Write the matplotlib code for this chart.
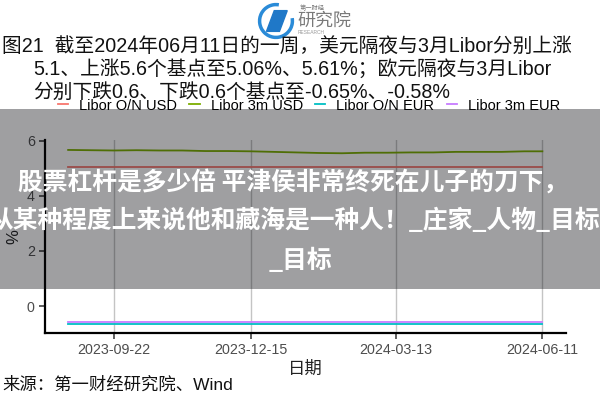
import numpy as np
import pandas as pd
import matplotlib
matplotlib.use('Agg')
import matplotlib.pyplot as plt
import matplotlib.dates as mdates
import matplotlib.patches as ptc

plt.rcParams['font.family'] = ['Liberation Sans', 'Noto Sans CJK SC']

# Data
usd3m_dates = ['2023-08-25', '2023-09-08', '2023-09-22', '2023-10-06', '2023-10-20',
               '2023-11-03', '2023-11-17', '2023-12-01', '2023-12-15', '2023-12-29',
               '2024-01-12', '2024-01-26', '2024-02-09', '2024-02-23', '2024-03-08',
               '2024-03-22', '2024-04-05', '2024-04-19', '2024-05-03', '2024-05-17',
               '2024-05-31', '2024-06-11']
usd3m = [5.66, 5.65, 5.64, 5.65, 5.64, 5.64, 5.62, 5.62, 5.61, 5.59, 5.57,
         5.55, 5.54, 5.56, 5.56, 5.57, 5.57, 5.59, 5.59, 5.59, 5.61, 5.61]
flat_dates = ['2023-08-25', '2024-06-11']
usd_on = [5.06, 5.06]
eur_on = [-0.65, -0.65]
eur3m = [-0.58, -0.58]
tick_dates = ['2023-09-22', '2023-12-15', '2024-03-13', '2024-06-11']
y_ticks = [0, 2, 4, 6]
names = ['Libor O/N USD', 'Libor 3m USD', 'Libor O/N EUR', 'Libor 3m EUR']
colors = ['#F8766D', '#7CAE00', '#00BFC4', '#C77CFF']

title_lines = ['图21  截至2024年06月11日的一周，美元隔夜与3月Libor分别上涨',
               '5.1、上涨5.6个基点至5.06%、5.61%；欧元隔夜与3月Libor',
               '分别下跌0.6、下跌0.6个基点至-0.65%、-0.58%']
overlay_lines = ['股票杠杆是多少倍 平津侯非常终死在儿子的刀下，',
                 '从某种程度上来说他和藏海是一种人！_庄家_人物_目标',
                 '_目标']

d3m = pd.to_datetime(usd3m_dates)
dflat = pd.to_datetime(flat_dates)
dticks = pd.to_datetime(tick_dates)

fig = plt.figure(figsize=(6, 4), dpi=100)
fig.patch.set_facecolor('white')
W, H = 600.0, 400.0

ax = fig.add_axes([44.5 / W, 1 - 333 / H, (566 - 44.5) / W, (333 - 140) / H])
l1, = ax.plot(dflat, usd_on, color=colors[0], lw=1.3)
l2, = ax.plot(d3m, usd3m, color=colors[1], lw=1.3)
l3, = ax.plot(dflat, eur_on, color=colors[2], lw=1.3)
l4, = ax.plot(dflat, eur3m, color=colors[3], lw=1.3)

pad = pd.Timedelta(days=14.5)
ax.set_xlim(dflat[0] - pad, dflat[-1] + pad)
ax.set_ylim(-0.97, 6.02)
ax.set_xticks(dticks)
ax.xaxis.set_major_formatter(mdates.DateFormatter('%Y-%m-%d'))
ax.set_yticks(y_ticks)
ax.grid(axis='x', color='#c4c4c4', lw=1.0)
ax.set_axisbelow(True)
for s in ['top', 'right']:
    ax.spines[s].set_visible(False)
for s in ['left', 'bottom']:
    ax.spines[s].set_linewidth(1.6)
    ax.spines[s].set_color('black')
ax.tick_params(length=4, width=1.1, color='#333333', labelsize=10.3,
               labelcolor='#4d4d4d', pad=3)
ax.set_xlabel('日期', fontsize=12.5, color='#222222', labelpad=3)
ax.set_ylabel('%', fontsize=12, color='#222222', labelpad=4)

fig.legend([l1, l2, l3, l4], names, loc='center',
           bbox_to_anchor=(0.5 + 9 / W, 1 - 105.5 / H),
           ncol=4, frameon=False, fontsize=10.5, handlelength=0.7,
           handletextpad=0.75, columnspacing=0.85, borderpad=0)

# title block (baselines)
fig.text(2 / W, 1 - 52 / H, title_lines[0], fontsize=14.2, va='baseline', color='#111111')
fig.text(33 / W, 1 - 74.5 / H, title_lines[1], fontsize=14.2, va='baseline', color='#111111')
fig.text(33 / W, 1 - 97.5 / H, title_lines[2], fontsize=14.2, va='baseline', color='#111111')

# logo
lax = fig.add_axes([256 / W, 1 - 40 / H, 40 / W, 38 / H])
lax.set_xlim(-1.1, 1.1)
lax.set_ylim(-1.1, 1.1)
lax.set_aspect('equal')
lax.axis('off')
lax.add_patch(ptc.Arc((0, 0), 1.9, 1.9, theta1=80, theta2=400 - 30, color='#2a8bd8', lw=2.5))
lax.add_patch(ptc.Polygon([(-0.55, -0.6), (-0.1, 0.6), (0.65, 0.6), (0.2, -0.6)],
                          closed=True, color='#1f78c8'))
fig.text(300 / W, 1 - 8 / H, '第一财经', fontsize=4.5, color='#777777', va='center')
fig.text(297 / W, 1 - 21 / H, '研究院', fontsize=13, color='#7a7a7a', va='center')
fig.text(298 / W, 1 - 33 / H, 'RESEARCH', fontsize=3.5, color='#999999', va='center')

# source
fig.text(2 / W, 1 - 385 / H, '来源：第一财经研究院、Wind', fontsize=12.5, va='center',
         color='#111111')

# grey overlay band with text
band = ptc.Rectangle((0, 1 - 289 / H), 1, (289 - 109) / H, transform=fig.transFigure,
                     facecolor='#08090f', alpha=0.39, edgecolor='none', zorder=5)
fig.add_artist(band)
ofont = ['Noto Sans CJK SC']
fig.text(18 / W, 1 - 182 / H, overlay_lines[0], fontsize=17.8, fontweight='bold',
         color='white', va='center', ha='left', family=ofont, zorder=6)
fig.text(-12 / W, 1 - 220 / H, overlay_lines[1], fontsize=17.8, fontweight='bold',
         color='white', va='center', ha='left', family=ofont, zorder=6)
fig.text(300 / W, 1 - 260 / H, overlay_lines[2], fontsize=17.8, fontweight='bold',
         color='white', va='center', ha='center', family=ofont, zorder=6)

fig.savefig('out.png', dpi=100)
